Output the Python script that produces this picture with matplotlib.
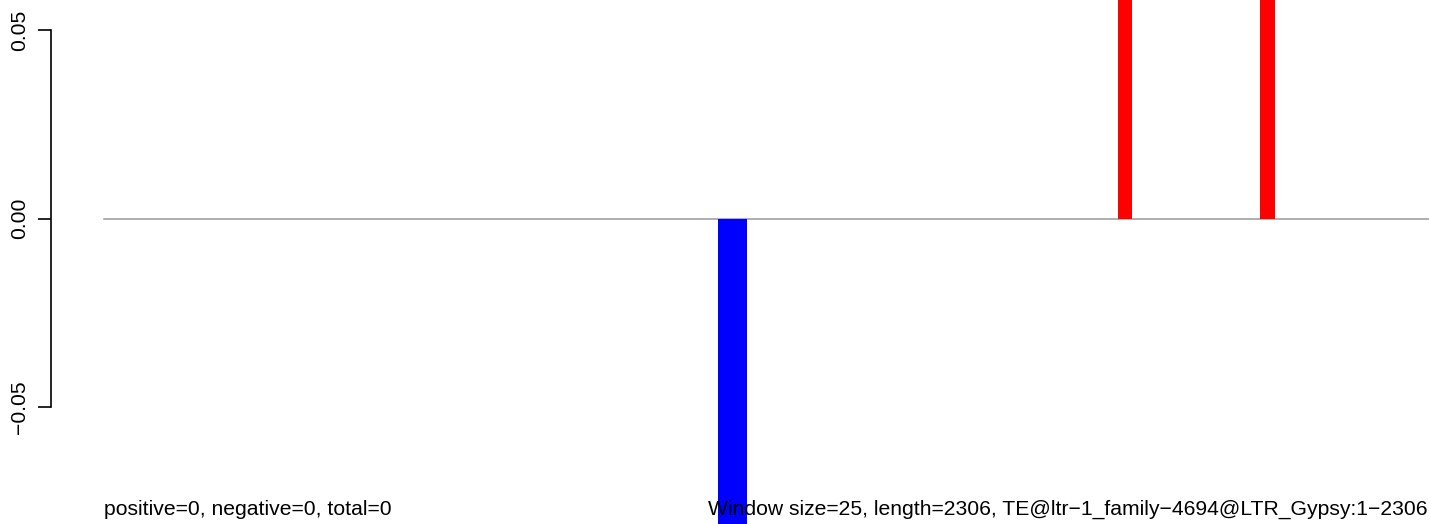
import matplotlib
matplotlib.use("Agg")
import matplotlib.pyplot as plt

# window data (bp start positions, window size 25)
seq_len = 2306
win_size = 25
win_start = [1062, 1087, 1754, 2000]
win_value = [-0.1, -0.1, 0.1, 0.1]
y_ticks = [-0.05, 0.0, 0.05]
y_ticklabels = ["\u22120.05", "0.00", "0.05"]
left_note = "positive=0, negative=0, total=0"
right_note = "Window size=25, length=2306, TE@ltr\u22121_family\u22124694@LTR_Gypsy:1\u22122306"

plt.rcParams['font.family'] = ['Liberation Sans', 'DejaVu Sans']

W, H = 1429, 524
fig = plt.figure(figsize=(W / 100, H / 100), dpi=100)

ax_left = 50.7
x0_px = 104.0
px_per_bp = 1333.0 / seq_len
ax = fig.add_axes([ax_left / W, 0, (W - ax_left) / W, 1])
ax.set_xlim(-(x0_px - ax_left) / px_per_bp, (W - x0_px) / px_per_bp)
ax.set_ylim(-(H - 218.5) / 3770.0, 218.5 / 3770.0)

colors = ['red' if v > 0 else 'blue' for v in win_value]
ax.bar(win_start, win_value, width=win_size, align='edge', color=colors, linewidth=0, zorder=2)
ax.plot([0, seq_len], [0, 0], color='#999999', lw=1.1, zorder=1)

ax.text(0, -0.0786, left_note, fontsize=15.2, ha='left', va='baseline', zorder=3)
ax.text(1045, -0.0786, right_note, fontsize=15.2, ha='left', va='baseline', zorder=3)

for s in ['top', 'right', 'bottom']:
    ax.spines[s].set_visible(False)
ax.spines['left'].set_bounds(-0.05, 0.05)
ax.spines['left'].set_linewidth(1.2)
ax.set_xticks([])
ax.set_yticks(y_ticks)
ax.set_yticklabels(y_ticklabels, rotation=90, va='center', fontsize=15.2)
ax.tick_params(axis='y', length=9.5, width=1.2, pad=6)

fig.savefig("out.png", dpi=100)
